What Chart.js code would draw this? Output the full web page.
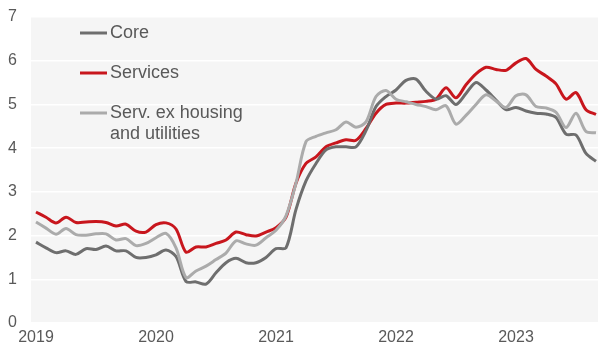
<!DOCTYPE html>
<html>
<head>
<meta charset="utf-8">
<script src="https://cdn.jsdelivr.net/npm/chart.js@4"></script>
<style>
  html, body { margin: 0; padding: 0; background: #fff; }
  #wrap { width: 598px; height: 347px; }
</style>
</head>
<body>
<div id="wrap"><canvas id="inflationChart"></canvas></div>
<script>
// monthly, Jan 2019 onwards (index 0 = Jan 2019)
const yearLabels = ['2019', '2020', '2021', '2022', '2023'];
const yearTicks = [0, 12, 24, 36, 48];

const core = [
  1.85, 1.72, 1.61, 1.65, 1.57, 1.70, 1.68, 1.76, 1.65, 1.65, 1.50, 1.50,
  1.56, 1.67, 1.52, 0.95, 0.94, 0.89, 1.15, 1.38, 1.48, 1.38, 1.38, 1.50,
  1.70, 1.72, 2.60, 3.25, 3.65, 3.96, 4.03, 4.03, 4.03, 4.40, 4.95, 5.18,
  5.33, 5.55, 5.58, 5.30, 5.12, 5.20, 5.00, 5.25, 5.50, 5.33, 5.10, 4.88,
  4.93, 4.85, 4.80, 4.78, 4.70, 4.32, 4.30, 3.88, 3.70
];
const services = [
  2.54, 2.42, 2.29, 2.42, 2.30, 2.31, 2.32, 2.30, 2.22, 2.26, 2.10, 2.08,
  2.25, 2.29, 2.15, 1.62, 1.74, 1.74, 1.82, 1.90, 2.08, 2.02, 1.99, 2.08,
  2.18, 2.42, 3.20, 3.65, 3.80, 4.03, 4.12, 4.19, 4.18, 4.45, 4.80, 5.00,
  5.03, 5.03, 5.05, 5.07, 5.12, 5.38, 5.15, 5.45, 5.70, 5.85, 5.80, 5.78,
  5.95, 6.05, 5.80, 5.65, 5.47, 5.12, 5.27, 4.88, 4.77
];
const servExHousing = [
  2.31, 2.17, 2.03, 2.16, 2.02, 2.01, 2.04, 2.04, 1.90, 1.93, 1.77, 1.82,
  1.95, 2.05, 1.72, 1.04, 1.19, 1.30, 1.45, 1.60, 1.88, 1.81, 1.78, 1.95,
  2.12, 2.45, 3.20, 4.15, 4.27, 4.35, 4.42, 4.60, 4.48, 4.60, 5.18, 5.32,
  5.12, 5.06, 5.00, 4.95, 4.88, 4.97, 4.55, 4.75, 5.00, 5.22, 5.08, 4.93,
  5.20, 5.22, 4.95, 4.92, 4.82, 4.47, 4.80, 4.38, 4.35
];

const toPoints = arr => arr.map((v, i) => ({ x: i, y: v }));

const legendItems = [
  { lines: ['Core'], color: '#6e6e6e', y: 33 },
  { lines: ['Services'], color: '#c8161d', y: 73 },
  { lines: ['Serv. ex housing', 'and utilities'], color: '#ababab', y: 113 }
];

const plotBackground = {
  id: 'plotBackground',
  beforeDraw(chart) {
    const { ctx, chartArea: a } = chart;
    ctx.save();
    ctx.fillStyle = '#f5f5f5';
    ctx.fillRect(a.left, a.top, a.right - a.left, a.bottom - a.top);
    ctx.restore();
  }
};

const inlineLegend = {
  id: 'inlineLegend',
  afterDraw(chart) {
    const ctx = chart.ctx;
    ctx.save();
    ctx.font = '18px "Liberation Sans", Arial, sans-serif';
    ctx.textBaseline = 'middle';
    legendItems.forEach(item => {
      ctx.strokeStyle = item.color;
      ctx.lineWidth = 3;
      ctx.beginPath();
      ctx.moveTo(80, item.y);
      ctx.lineTo(107, item.y);
      ctx.stroke();
      ctx.fillStyle = '#595959';
      item.lines.forEach((t, k) => ctx.fillText(t, 110, item.y + k * 21));
    });
    ctx.restore();
  }
};

const lineStyle = color => ({
  borderColor: color,
  backgroundColor: color,
  borderWidth: 3,
  pointRadius: 0,
  tension: 0.3,
  fill: false
});

const axisFont = { size: 16, family: '"Liberation Sans", Arial, sans-serif' };

new Chart(document.getElementById('inflationChart'), {
  type: 'line',
  data: {
    datasets: [
      { label: 'Serv. ex housing and utilities', data: toPoints(servExHousing), ...lineStyle('#ababab') },
      { label: 'Core', data: toPoints(core), ...lineStyle('#6e6e6e') },
      { label: 'Services', data: toPoints(services), ...lineStyle('#c8161d') }
    ]
  },
  options: {
    responsive: true,
    maintainAspectRatio: false,
    animation: false,
    layout: { padding: { top: 17, right: 0, left: 8, bottom: 0 } },
    plugins: {
      legend: { display: false },
      tooltip: { enabled: false }
    },
    scales: {
      x: {
        type: 'linear',
        min: -0.5,
        max: 56.2,
        afterBuildTicks: scale => {
          scale.ticks = yearTicks.map(v => ({ value: v }));
        },
        afterFit: scale => { scale.height = 24; },
        grid: { display: false, drawTicks: false },
        border: { display: false },
        ticks: {
          color: '#595959',
          font: axisFont,
          padding: 5,
          maxRotation: 0,
          callback: v => yearLabels[yearTicks.indexOf(v)]
        }
      },
      y: {
        min: 0,
        max: 7,
        afterFit: scale => { scale.width = 23; },
        grid: { color: '#ffffff', lineWidth: 1.5, drawTicks: false },
        border: { display: false },
        ticks: {
          stepSize: 1,
          color: '#595959',
          font: axisFont,
          padding: 0,
          crossAlign: 'far'
        }
      }
    }
  },
  plugins: [plotBackground, inlineLegend]
});
</script>
</body>
</html>
